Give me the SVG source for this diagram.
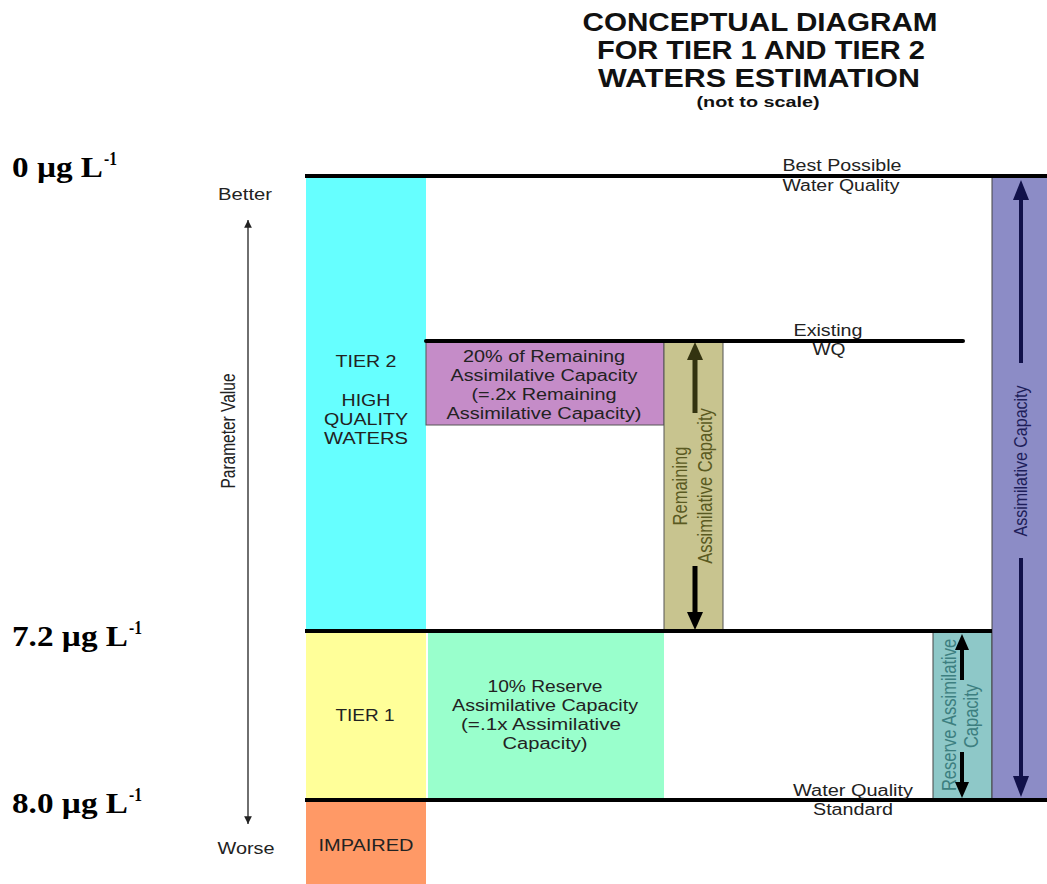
<svg xmlns="http://www.w3.org/2000/svg" width="1047" height="884" viewBox="0 0 1047 884">
<style>
.t{font-family:"Liberation Sans",Arial,sans-serif;font-size:16px;fill:#222;text-anchor:middle}
.ttl{font-family:"Liberation Sans",Arial,sans-serif;font-size:25px;font-weight:bold;fill:#111;text-anchor:middle}
.val{font-family:"Liberation Serif","Times New Roman",serif;font-size:29px;font-weight:bold;fill:#000}
.sup{font-family:"Liberation Serif","Times New Roman",serif;font-size:18px;font-weight:bold;fill:#000}
.line{stroke:#000;stroke-width:4}
</style>
<defs>
<marker id="ah" viewBox="0 0 10 10" refX="10" refY="5" markerWidth="6" markerHeight="6" orient="auto-start-reverse"><path d="M0,0 L10,5 L0,10 z" fill="#222"/></marker>
</defs>
<rect width="1047" height="884" fill="#fff"/>
<g id="title">
<text class="ttl" x="760" y="31" textLength="355" lengthAdjust="spacingAndGlyphs">CONCEPTUAL DIAGRAM</text>
<text class="ttl" x="761" y="59" textLength="328" lengthAdjust="spacingAndGlyphs">FOR TIER 1 AND TIER 2</text>
<text class="ttl" x="759" y="87" textLength="322" lengthAdjust="spacingAndGlyphs">WATERS ESTIMATION</text>
<text class="ttl" x="758" y="107" style="font-size:14px" textLength="123" lengthAdjust="spacingAndGlyphs">(not to scale)</text>
</g>
<g id="values">
<text class="val" x="12" y="177" textLength="91" lengthAdjust="spacingAndGlyphs">0 µg L</text>
<text class="sup" x="104" y="165" textLength="13" lengthAdjust="spacingAndGlyphs">-1</text>
<text class="val" x="12" y="646" textLength="116" lengthAdjust="spacingAndGlyphs">7.2 µg L</text>
<text class="sup" x="129" y="634" textLength="13" lengthAdjust="spacingAndGlyphs">-1</text>
<text class="val" x="12" y="813" textLength="116" lengthAdjust="spacingAndGlyphs">8.0 µg L</text>
<text class="sup" x="129" y="801" textLength="13" lengthAdjust="spacingAndGlyphs">-1</text>
</g>
<g id="param-axis">
<line x1="248" y1="220" x2="248" y2="824" stroke="#222" stroke-width="1.3" marker-start="url(#ah)" marker-end="url(#ah)"/>
<text class="t" x="245" y="200" textLength="54" lengthAdjust="spacingAndGlyphs">Better</text>
<text class="t" x="246" y="854" textLength="57" lengthAdjust="spacingAndGlyphs">Worse</text>
<text class="t" transform="translate(235,431) scale(1.25,1) rotate(-90)" style="font-size:15.5px">Parameter Value</text>
</g>
<g id="tier2">
<rect x="306" y="176" width="120" height="455" fill="#66ffff"/>
<text class="t" x="366" y="367" textLength="61" lengthAdjust="spacingAndGlyphs">TIER 2</text>
<text class="t" x="366" y="406" textLength="49" lengthAdjust="spacingAndGlyphs">HIGH</text>
<text class="t" x="366" y="425" textLength="84" lengthAdjust="spacingAndGlyphs">QUALITY</text>
<text class="t" x="366" y="444" textLength="84" lengthAdjust="spacingAndGlyphs">WATERS</text>
</g>
<g id="tier1">
<rect x="306" y="631" width="120" height="169" fill="#ffff99"/>
<text class="t" x="365" y="721" textLength="59" lengthAdjust="spacingAndGlyphs">TIER 1</text>
</g>
<g id="impaired">
<rect x="306" y="800" width="120" height="84" fill="#ff9966"/>
<text class="t" x="366" y="851" textLength="95" lengthAdjust="spacingAndGlyphs">IMPAIRED</text>
</g>
<g id="pct20">
<rect x="426" y="341" width="238" height="84" fill="#c58cc8" stroke="#555" stroke-width="1"/>
<text class="t" x="544" y="362" textLength="162" lengthAdjust="spacingAndGlyphs">20% of Remaining</text>
<text class="t" x="544" y="381" textLength="187" lengthAdjust="spacingAndGlyphs">Assimilative Capacity</text>
<text class="t" x="544" y="400" textLength="145" lengthAdjust="spacingAndGlyphs">(=.2x Remaining</text>
<text class="t" x="544" y="419" textLength="195" lengthAdjust="spacingAndGlyphs">Assimilative Capacity)</text>
</g>
<g id="reserve10">
<rect x="428" y="631" width="236" height="169" fill="#99ffcc"/>
<text class="t" x="545" y="692" textLength="115" lengthAdjust="spacingAndGlyphs">10% Reserve</text>
<text class="t" x="545" y="711" textLength="186" lengthAdjust="spacingAndGlyphs">Assimilative Capacity</text>
<text class="t" x="541" y="730" textLength="160" lengthAdjust="spacingAndGlyphs">(=.1x Assimilative</text>
<text class="t" x="545" y="749" textLength="85" lengthAdjust="spacingAndGlyphs">Capacity)</text>
</g>
<g id="remaining">
<rect x="664" y="341" width="59" height="290" fill="#c8c48f" stroke="#555" stroke-width="1"/>
<line x1="695" y1="413" x2="695" y2="356" stroke="#333310" stroke-width="5"/>
<path d="M687,360 L695,342 L703,360 z" fill="#333310"/>
<line x1="695" y1="566" x2="695" y2="616" stroke="#000" stroke-width="5"/>
<path d="M687,612 L695,630 L703,612 z" fill="#000"/>
<text class="t" transform="translate(687,486) scale(1.25,1) rotate(-90)" style="fill:#5a5a22;font-size:16.5px">Remaining</text>
<text class="t" transform="translate(712,486) scale(1.25,1) rotate(-90)" style="fill:#5a5a22;font-size:16.5px">Assimilative Capacity</text>
</g>
<g id="reserve">
<rect x="933" y="632" width="59" height="168" fill="#8ec8c8" stroke="#444" stroke-width="1"/>
<line x1="962" y1="680" x2="962" y2="646" stroke="#000" stroke-width="4"/>
<path d="M955,650 L962,634 L969,650 z" fill="#000"/>
<line x1="962" y1="752" x2="962" y2="786" stroke="#000" stroke-width="4"/>
<path d="M955,782 L962,798 L969,782 z" fill="#000"/>
<text class="t" transform="translate(956,715) scale(1.2,1) rotate(-90)" style="fill:#3d7f80;font-size:16.5px">Reserve Assimilative</text>
<text class="t" transform="translate(978,716) scale(1.2,1) rotate(-90)" style="fill:#3d7f80;font-size:16.5px">Capacity</text>
</g>
<g id="assimilative">
<rect x="992" y="177" width="60" height="623" fill="#8c8cc6" stroke="#444" stroke-width="1"/>
<line x1="1021" y1="363" x2="1021" y2="196" stroke="#11114a" stroke-width="4"/>
<path d="M1013,200 L1021,180 L1029,200 z" fill="#11114a"/>
<line x1="1021" y1="558" x2="1021" y2="780" stroke="#11114a" stroke-width="4"/>
<path d="M1013,776 L1021,797 L1029,776 z" fill="#11114a"/>
<text class="t" transform="translate(1027,461) scale(1.2,1) rotate(-90)" style="fill:#1e1e5a;font-size:16px">Assimilative Capacity</text>
</g>
<g id="connectors">
<line class="line" x1="305" y1="176" x2="1047" y2="176"/>
<line class="line" x1="426" y1="341" x2="963" y2="341" stroke-linecap="round"/>
<line class="line" x1="305" y1="631" x2="992" y2="631"/>
<line class="line" x1="305" y1="800" x2="1047" y2="800"/>
</g>
<g id="level-labels">
<text class="t" x="842" y="171" textLength="119" lengthAdjust="spacingAndGlyphs">Best Possible</text>
<text class="t" x="841" y="191" textLength="117" lengthAdjust="spacingAndGlyphs">Water Quality</text>
<text class="t" x="828" y="336" textLength="69" lengthAdjust="spacingAndGlyphs">Existing</text>
<text class="t" x="829" y="355" textLength="33" lengthAdjust="spacingAndGlyphs">WQ</text>
<text class="t" x="853" y="796" textLength="120" lengthAdjust="spacingAndGlyphs">Water Quality</text>
<text class="t" x="853" y="815" textLength="80" lengthAdjust="spacingAndGlyphs">Standard</text>
</g>
</svg>
